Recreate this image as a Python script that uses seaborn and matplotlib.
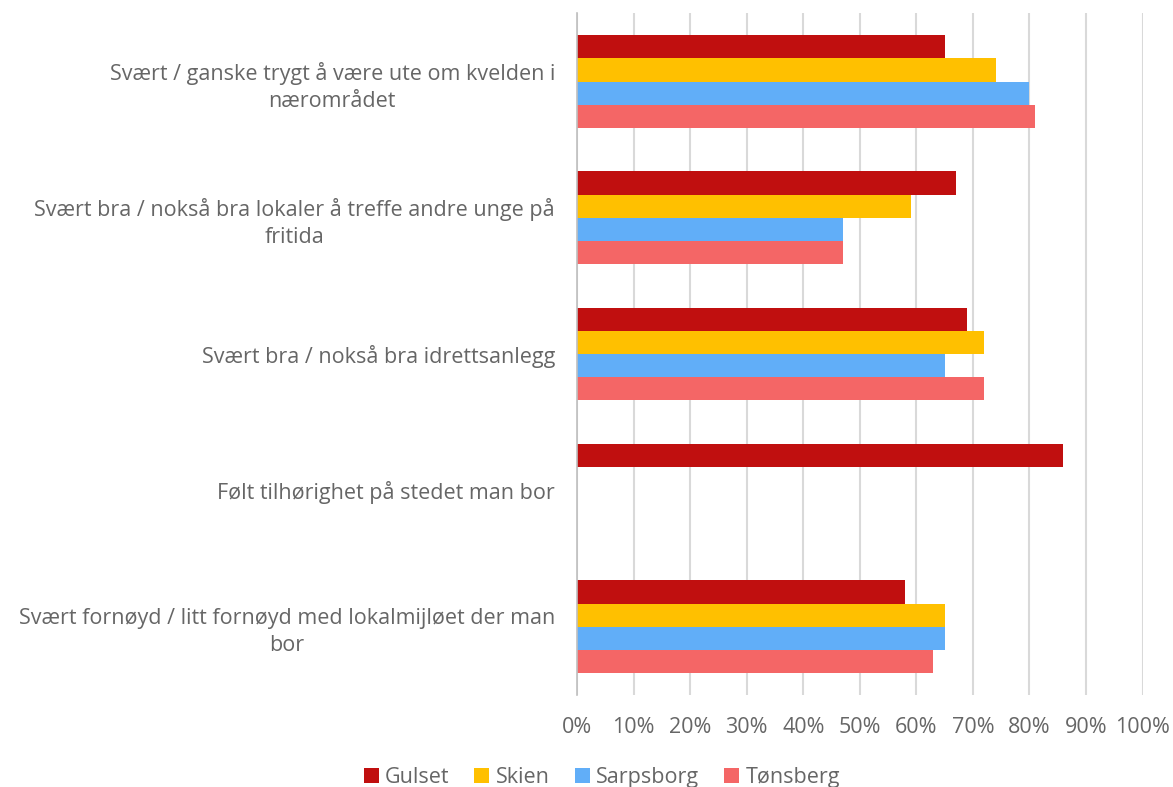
import pandas as pd
import numpy as np
import matplotlib.pyplot as plt
import seaborn as sns

categories = [
    'Svært / ganske trygt å være ute om kvelden i\nnærområdet',
    'Svært bra / nokså bra lokaler å treffe andre unge på\nfritida',
    'Svært bra / nokså bra idrettsanlegg',
    'Følt tilhørighet på stedet man bor',
    'Svært fornøyd / litt fornøyd med lokalmijløet der man\nbor',
]
series = ['Gulset', 'Skien', 'Sarpsborg', 'Tønsberg']
gulset = [0.65, 0.67, 0.69, 0.86, 0.58]
skien = [0.74, 0.59, 0.72, np.nan, 0.65]
sarpsborg = [0.80, 0.47, 0.65, np.nan, 0.65]
tonsberg = [0.81, 0.47, 0.72, np.nan, 0.63]
colors = ['#C00F0F', '#FFC000', '#61AEF8', '#F46666']

rows = []
for name, vals in zip(series, [gulset, skien, sarpsborg, tonsberg]):
    for cat, v in zip(categories, vals):
        rows.append({'kategori': cat, 'sted': name, 'andel': v})
df = pd.DataFrame(rows)

sns.set_style('white')
plt.rcParams['font.family'] = ['Open Sans', 'DejaVu Sans']
grey = '#666666'
fs = 15.5

fig = plt.figure(figsize=(11.73, 7.87), dpi=100)
ax = fig.add_axes([0.492, 0.117, 0.482, 0.866])
sns.barplot(data=df, x='andel', y='kategori', hue='sted', order=categories,
            hue_order=series, palette=colors, orient='h', width=0.68,
            saturation=1, linewidth=0, ax=ax, legend=True)

ax.set_xlim(0, 1)
ax.set_xticks(np.arange(0, 1.01, 0.1))
ax.set_xticklabels([f'{int(round(t*100))}%' for t in np.arange(0, 1.01, 0.1)])
ax.grid(axis='x', color='#D9D9D9', linewidth=1.5)
ax.set_axisbelow(True)
for s in ['top', 'right', 'bottom']:
    ax.spines[s].set_visible(False)
ax.spines['left'].set_color('#BFBFBF')
ax.spines['left'].set_linewidth(1.2)
ax.tick_params(axis='x', length=0, pad=16, labelsize=fs, labelcolor=grey)
ax.tick_params(axis='y', length=0, pad=16, labelsize=fs, labelcolor=grey)
for lab in ax.get_yticklabels():
    lab.set_multialignment('center')
    lab.set_linespacing(1.35)
ax.set_xlabel('')
ax.set_ylabel('')

handles, labels = ax.get_legend_handles_labels()
ax.get_legend().remove()
fig.legend(handles, labels, loc='lower center', bbox_to_anchor=(0.513, -0.026),
           ncol=4, frameon=False, fontsize=fs, labelcolor=grey,
           handlelength=0.7, handleheight=0.7, handletextpad=0.3,
           columnspacing=1.15)

fig.savefig('out.png', dpi=100)
